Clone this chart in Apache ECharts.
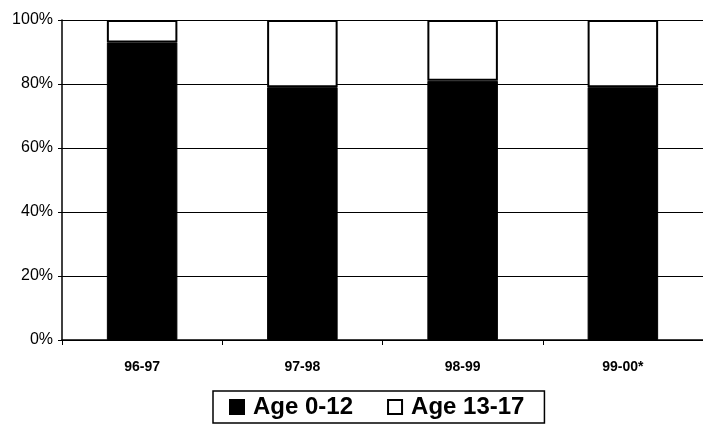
<!DOCTYPE html>
<html>
<head>
<meta charset="utf-8">
<script src="https://cdn.jsdelivr.net/npm/echarts@6/dist/echarts.min.js"></script>
<style>
  html, body { margin: 0; padding: 0; background: #fff; }
</style>
</head>
<body>
<div id="chart" style="width: 703px;height: 427px"></div>
<script>
// school years on the x axis
var categories = ["96-97", "97-98", "98-99", "99-00*"];
// share of each age group, percent
var age0to12 = [93, 79, 81, 79];
var age13to17 = [7, 21, 19, 21];

var myChart = echarts.init(document.getElementById("chart"));

var option = {
  backgroundColor: "#fff",
  animation: false,
  grid: {
    left: 62,
    right: 0,
    top: 20,
    bottom: 87
  },
  legend: {
    data: [
      { name: "Age 0-12", icon: "rect" },
      { name: "Age 13-17", icon: "rect" }
    ],
    left: 213,
    top: 391,
    padding: [4, 20, 4, 16],
    itemGap: 34,
    itemWidth: 14,
    itemHeight: 14,
    borderColor: "#000",
    borderWidth: 1.5,
    textStyle: {
      color: "#000",
      fontFamily: "Liberation Sans",
      fontWeight: "bold",
      fontSize: 24,
      padding: [0, 0, 0, 4]
    }
  },
  xAxis: {
    type: "category",
    data: categories,
    axisLine: {
      lineStyle: { color: "#000", width: 1.5 }
    },
    axisTick: {
      show: true,
      length: 5,
      lineStyle: { color: "#000" }
    },
    axisLabel: {
      color: "#000",
      fontFamily: "Liberation Sans",
      fontWeight: "bold",
      fontSize: 14,
      margin: 20
    }
  },
  yAxis: {
    type: "value",
    min: 0,
    max: 100,
    interval: 20,
    axisLine: {
      show: true,
      lineStyle: { color: "#000", width: 1.5 }
    },
    axisTick: {
      show: true,
      length: 4,
      lineStyle: { color: "#000" }
    },
    splitLine: {
      show: true,
      lineStyle: { color: "#000", width: 1.2 }
    },
    axisLabel: {
      formatter: "{value}%",
      color: "#000",
      fontFamily: "Liberation Sans",
      fontSize: 16,
      margin: 9
    }
  },
  series: [
    {
      name: "Age 0-12",
      type: "bar",
      stack: "total",
      barWidth: "44%",
      itemStyle: {
        color: "#000",
        borderColor: "#000",
        borderWidth: 1
      },
      data: age0to12
    },
    {
      name: "Age 13-17",
      type: "bar",
      stack: "total",
      barWidth: "44%",
      itemStyle: {
        color: "#fff",
        borderColor: "#000",
        borderWidth: 2
      },
      data: age13to17
    }
  ]
};
myChart.setOption(option);
</script>
</body>
</html>
